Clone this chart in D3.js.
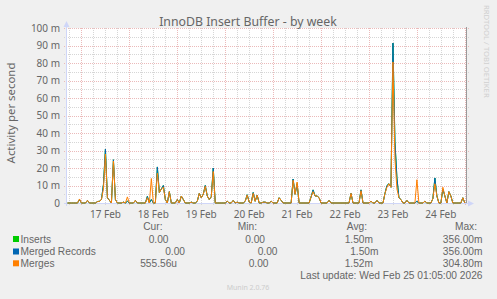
<!DOCTYPE html>
<html>
<head>
<meta charset="utf-8">
<script src="https://cdn.jsdelivr.net/npm/d3@7"></script>
<style>
  body { margin: 0; background: #f0f0f0; }
  svg { display: block; font-family: "Noto Sans", sans-serif; }
</style>
</head>
<body>
<svg id="chart" width="497" height="299"></svg>
<script>
// hourly samples starting Feb 16 17:00, values in milli-ops per second
const firstSample = new Date(2026, 1, 16, 17, 0);
const mergedRecords = [
  0,0,0,0,0,0,2,0,0,0, 1.5,0,0,0,0,0.8,1,2,10.5,30.8,
  3,1.5,0,24.7,2,0,0,0,0.5,0, 1,0,0,0,1.5,0,0,0,0,0,
  3.8,0,2,0,0,20.6,6,8,10,2, 0,6.5,0,0,0,2,0,4,2,0,
  0,0,0.5,0,0,1,5.5,3,5,10, 4,2,3.5,20,0,0,0,0,0,0,
  1,0,0,1.5,0,0.5,0,0,0,1, 4.7,0.5,0,6,1,4.5,0,0,0.5,0.5,
  0,0,1,0,0,0,3,1.5,0,0, 0,0,0,13.7,5,11,0,0,0,0,
  0,0,3.5,7.5,4,4,3,0,0,0, 0,1.5,0,0,0,0,0,0,0,0,
  0,0,5.5,0,0,0,0,7.5,0,0, 0,0,1,0,0,1.5,0,0,0,5.5,
  10,11,9,91.4,35,14.3,3,2,0,0, 1.5,0,0,0,0,1,0,0,0,1,
  0,0,0,2.5,14.3,4,0,0,8,4, 0,6.5,4,0,0,0,0,0,3,0
];
const merges = [
  0,0,0,0,0,0,2.3,0,0,0, 1.5,0,0,0,0,0.8,1,2,8,28,
  3,1.5,0,24,2,0,0,0,0.5,0, 3.5,0,0,0,1.5,0,0,0,0,0,
  3,0,14,0,0,17,6,8,9,2, 0,6.5,0,0,0,2,0,4,2,0,
  0,0,0.5,0,0,1,5.5,3,5,9.5, 4,2,3.5,18,0,0,0,0,0,0,
  1,0,0,1.5,0,0.5,0,0,0,1, 4.5,0.5,0,5.5,1,4.5,0,0,0.5,0.5,
  0,0,1,0,0,0,3,1.5,0,0, 0,0,0,13,5,12,0,0,0,0,
  0,0,3.5,6.5,4,4,3,0,0,0, 0,1.5,0,0,0,0,0,0,0,0,
  0,0,5.5,0,0,0,0,7,0,0, 0,0,1,0,0,1.5,0,0,0,5.5,
  9,11,9,80.6,25,8,3,2,0,0, 1.5,0,0,0,0,13.3,0,0,0,1,
  0,0,0,2.5,11,4,0,0,9,4, 0,6.5,4,0,0,0,0,0,3,0
];
// inserts track merged records exactly (same min/avg/max), drawn underneath
const inserts = mergedRecords;

const seriesNames = ["Inserts", "Merged Records", "Merges"];
const seriesColors = ["#00cc00", "#0066b3", "#ff8000"];
const curVals = ["0.00", "0.00", "555.56u"];
const minVals = ["0.00", "0.00", "0.00"];
const avgVals = ["1.50m", "1.50m", "1.52m"];
const maxVals = ["356.00m", "356.00m", "304.80m"];
const yTicks = [0, 10, 20, 30, 40, 50, 60, 70, 80, 90, 100];

const svg = d3.select("#chart");
const fontCol = "#666";

const x = d3.scaleTime()
  .domain([new Date(2026, 1, 16, 16, 45), new Date(2026, 1, 25, 1, 5)])
  .range([67, 467]);
const y = d3.scaleLinear().domain([0, 100]).range([203, 28]);

svg.append("rect").attr("x", 67).attr("y", 28).attr("width", 400).attr("height", 175).attr("fill", "#fff");

// grid: minor every 5 m / 6 h, major every 10 m / day
const grid = svg.append("g").attr("shape-rendering", "crispEdges");
grid.selectAll(".hg").data(d3.range(0, 101, 5)).enter().append("line")
  .attr("x1", 64).attr("x2", 470)
  .attr("y1", d => Math.round(y(d)) + 0.5).attr("y2", d => Math.round(y(d)) + 0.5)
  .attr("stroke", d => d % 10 === 0 ? "#ebbaba" : "#d6d6d6")
  .attr("stroke-dasharray", "1,1");
const sixHours = d3.timeHour.every(6).range(x.domain()[0], x.domain()[1]);
grid.selectAll(".vg").data(sixHours).enter().append("line")
  .attr("x1", d => Math.round(x(d)) + 0.5).attr("x2", d => Math.round(x(d)) + 0.5)
  .attr("y1", 28).attr("y2", 206)
  .attr("stroke", d => d.getHours() === 0 ? "#ebbaba" : "#d6d6d6")
  .attr("stroke-dasharray", "1,1");

// axes (light blue with arrows)
const axis = svg.append("g").attr("shape-rendering", "crispEdges");
axis.append("line").attr("x1", 66.5).attr("x2", 66.5).attr("y1", 206).attr("y2", 24).attr("stroke", "#cfd6f8");
axis.append("line").attr("x1", 64).attr("x2", 470).attr("y1", 203.5).attr("y2", 203.5).attr("stroke", "#cfd6f8");
svg.append("path").attr("d", "M63.5,27 L66.5,21 L69.5,27 Z").attr("fill", "#cfd6f8");
svg.append("path").attr("d", "M468,200.5 L474,203.5 L468,206.5 Z").attr("fill", "#cfd6f8");
axis.append("line").attr("x1", 466.5).attr("x2", 466.5).attr("y1", 27).attr("y2", 203).attr("stroke", "#9a9a9a");

// y tick labels
svg.append("g").selectAll("text").data(yTicks).enter().append("text")
  .attr("x", 60).attr("y", d => y(d) + 3.6)
  .attr("text-anchor", "end").attr("font-size", 10).attr("fill", fontCol)
  .text(d => d === 0 ? "0" : d + " m");

// x tick labels at noon of each day
const noons = d3.timeDay.range(x.domain()[0], x.domain()[1]).map(d => d3.timeHour.offset(d, 12))
  .filter(d => d > x.domain()[0] && d < x.domain()[1]);
svg.append("g").selectAll("text").data(noons).enter().append("text")
  .attr("x", d => x(d)).attr("y", 217.5)
  .attr("text-anchor", "middle").attr("font-size", 10).attr("fill", fontCol)
  .text(d3.timeFormat("%d %b"));

// series lines
const timeOf = i => d3.timeHour.offset(firstSample, i);
const line = d3.line().x((d, i) => x(timeOf(i))).y(d => y(d));
[inserts, mergedRecords, merges].forEach((s, k) => {
  svg.append("path").datum(s).attr("d", line)
    .attr("fill", "none").attr("stroke", seriesColors[k]).attr("stroke-width", 1);
});

// titles
svg.append("text").attr("x", 248).attr("y", 26).attr("text-anchor", "middle")
  .attr("font-size", 12.3).attr("fill", fontCol).text("InnoDB Insert Buffer - by week");
svg.append("text").attr("transform", "translate(15,113) rotate(-90)").attr("text-anchor", "middle")
  .attr("font-size", 11.4).attr("fill", fontCol).text("Activity per second");
svg.append("text").attr("transform", "translate(484,5) rotate(90)").attr("text-anchor", "start")
  .attr("font-size", 7.7).attr("fill", "#d0d0d0").text("RRDTOOL / TOBI OETIKER");

// legend
const rowY = [242.5, 255, 266.8];
const colEnds = {
  cur: [168.5, 185, 177],
  min: [265, 277.5, 268.5],
  avg: [373, 378.5, 373],
  max: [482.5, 482.5, 482.5]
};
const leg = svg.append("g").attr("font-size", 10.2).attr("fill", fontCol)
  .attr("font-family", "'Liberation Sans', sans-serif");
[["Cur:", 162.5], ["Min:", 257], ["Avg:", 367], ["Max:", 477]].forEach(h => {
  leg.append("text").attr("x", h[1]).attr("y", 230).attr("text-anchor", "end").text(h[0]);
});
seriesNames.forEach((n, k) => {
  leg.append("rect").attr("x", 13).attr("y", rowY[k] - 6.5).attr("width", 6).attr("height", 6)
    .attr("fill", seriesColors[k]);
  leg.append("text").attr("x", 20.5).attr("y", rowY[k]).text(n);
  leg.append("text").attr("x", colEnds.cur[k]).attr("y", rowY[k]).attr("text-anchor", "end").text(curVals[k]);
  leg.append("text").attr("x", colEnds.min[k]).attr("y", rowY[k]).attr("text-anchor", "end").text(minVals[k]);
  leg.append("text").attr("x", colEnds.avg[k]).attr("y", rowY[k]).attr("text-anchor", "end").text(avgVals[k]);
  leg.append("text").attr("x", colEnds.max[k]).attr("y", rowY[k]).attr("text-anchor", "end").text(maxVals[k]);
});
leg.append("text").attr("x", 482.5).attr("y", 278.5).attr("text-anchor", "end")
  .text("Last update: Wed Feb 25 01:05:00 2026");
svg.append("text").attr("x", 248).attr("y", 289.5).attr("text-anchor", "middle")
  .attr("font-size", 7).attr("fill", "#cccccc").text("Munin 2.0.76");
</script>
</body>
</html>
